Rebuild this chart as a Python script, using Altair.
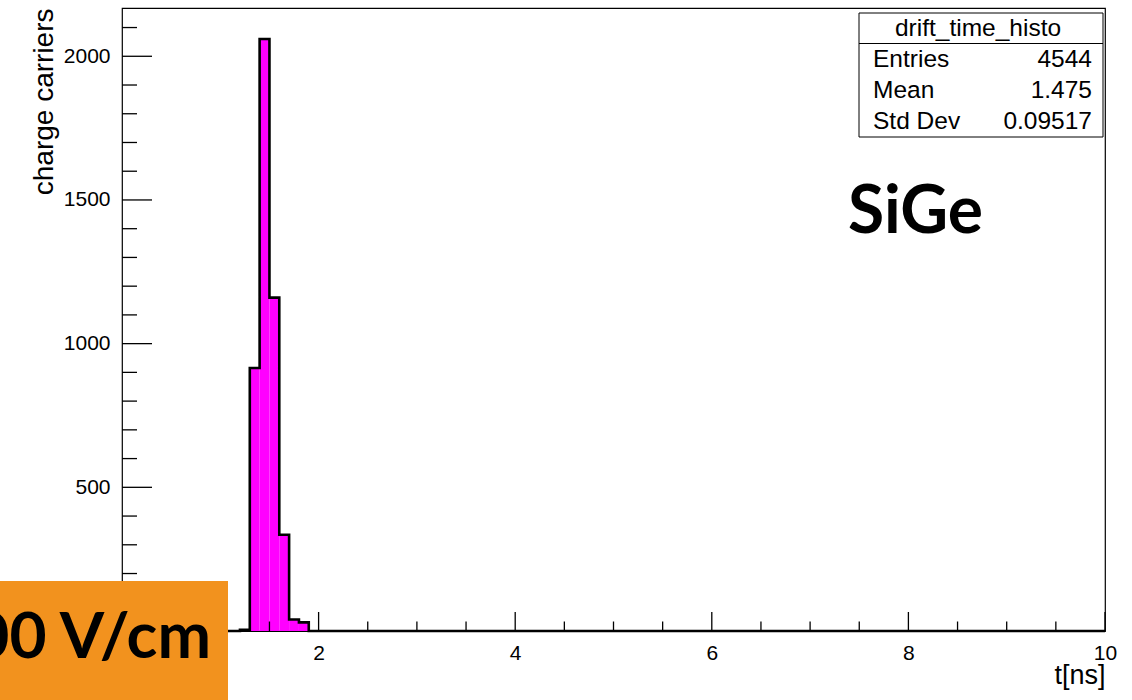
import altair as alt
import pandas as pd

# ---------------- data ----------------
bin_lo = [1.2, 1.3, 1.4, 1.5, 1.6, 1.7, 1.8]
bin_hi = [1.3, 1.4, 1.5, 1.6, 1.7, 1.8, 1.9]
counts = [4, 915, 2060, 1160, 335, 40, 30]
x_domain = [0, 10]
y_domain = [0, 2168]

x_major_ticks = [0, 2, 4, 6, 8, 10]
x_label_values = [2, 4, 6, 8, 10]          # "0" is hidden under the orange banner
x_minor_ticks = [0.5, 1, 1.5, 2.5, 3, 3.5, 4.5, 5, 5.5, 6.5, 7, 7.5, 8.5, 9, 9.5]
y_major_ticks = [0, 500, 1000, 1500, 2000]
y_label_values = [500, 1000, 1500, 2000]   # "0" is hidden under the orange banner
y_minor_ticks = [100, 200, 300, 400, 600, 700, 800, 900, 1100, 1200, 1300, 1400,
                 1600, 1700, 1800, 1900, 2100]

stats_title = "drift_time_histo"
stats_names = ["Entries", "Mean", "Std Dev"]
stats_values = ["4544", "1.475", "0.09517"]

x_title = "t[ns]"
y_title = "charge carriers"
material_text = "SiGe"
field_text = "1000 V/cm"

# ---------------- layout ----------------
W, H = 983, 623
FONT = "Liberation Sans"

bars_df = pd.DataFrame({"lo": bin_lo, "hi": bin_hi, "n": counts})
step_df = pd.DataFrame({
    "x": [x_domain[0]] + bin_lo + [bin_hi[-1], x_domain[1]],
    "y": [0] + counts + [0, 0],
})
one = pd.DataFrame({"a": [0]})

xscale = alt.Scale(domain=x_domain, nice=False, zero=False)
yscale = alt.Scale(domain=y_domain, nice=False, zero=False)

x_axis = alt.Axis(
    values=x_label_values, ticks=False, tickSize=0, domain=False, grid=False,
    labelFont=FONT, labelFontSize=21, labelColor="black", labelPadding=11,
    labelFlush=False, labelOverlap=False, format="d",
    title=x_title, titleFont=FONT, titleFontSize=27, titleFontWeight="normal",
    titleColor="black", titleAlign="right", titleAnchor="end",
    titleX=W, titleY=52, titleBaseline="alphabetic",
)
y_axis = alt.Axis(
    values=y_label_values, ticks=False, tickSize=0, domain=False, grid=False,
    labelFont=FONT, labelFontSize=21, labelColor="black", labelPadding=12,
    labelFlush=False, labelOverlap=False, format="d",
    title=y_title, titleFont=FONT, titleFontSize=28, titleFontWeight="normal",
    titleColor="black", titleAngle=270, titleAlign="right", titleAnchor="end",
    titleX=-70, titleY=0, titleBaseline="alphabetic",
)

bars = alt.Chart(bars_df).mark_rect(color="#FF00FF").encode(
    x=alt.X("lo:Q", scale=xscale, axis=x_axis),
    x2="hi:Q",
    y=alt.Y("n:Q", scale=yscale, axis=y_axis),
    y2=alt.datum(0),
)

step = alt.Chart(step_df).mark_line(
    color="black", strokeWidth=2.6, interpolate="step-after", clip=False
).encode(
    x=alt.X("x:Q", scale=xscale),
    y=alt.Y("y:Q", scale=yscale),
)

xmaj = alt.Chart(pd.DataFrame({"v": x_major_ticks})).mark_rule(
    color="black", strokeWidth=1.3).encode(
    x=alt.X("v:Q", scale=xscale), y=alt.value(H), y2=alt.value(H - 19))
xmin = alt.Chart(pd.DataFrame({"v": x_minor_ticks})).mark_rule(
    color="black", strokeWidth=1.3).encode(
    x=alt.X("v:Q", scale=xscale), y=alt.value(H), y2=alt.value(H - 9.5))
ymaj = alt.Chart(pd.DataFrame({"v": y_major_ticks})).mark_rule(
    color="black", strokeWidth=1.3).encode(
    y=alt.Y("v:Q", scale=yscale), x=alt.value(0), x2=alt.value(30))
ymin = alt.Chart(pd.DataFrame({"v": y_minor_ticks})).mark_rule(
    color="black", strokeWidth=1.3).encode(
    y=alt.Y("v:Q", scale=yscale), x=alt.value(0), x2=alt.value(15))

# stats box
bx0, bx1, by0, by1 = 737, 981, 5, 129
box = alt.Chart(one).mark_rect(fill="white", stroke="black", strokeWidth=1).encode(
    x=alt.value(bx0), x2=alt.value(bx1), y=alt.value(by0), y2=alt.value(by1))
sep = alt.Chart(one).mark_rule(color="black", strokeWidth=1).encode(
    x=alt.value(bx0), x2=alt.value(bx1), y=alt.value(35.5))
title_txt = alt.Chart(one).mark_text(
    text=stats_title, font=FONT, fontSize=24.5, color="black",
    align="center", baseline="middle").encode(
    x=alt.value((bx0 + bx1) / 2 - 3), y=alt.value(20.5))
stat_layers = []
for i, (nm, vl) in enumerate(zip(stats_names, stats_values)):
    yy = 51.5 + i * 31.3
    stat_layers.append(alt.Chart(one).mark_text(
        text=nm, font=FONT, fontSize=24.5, color="black",
        align="left", baseline="middle").encode(
        x=alt.value(751), y=alt.value(yy)))
    stat_layers.append(alt.Chart(one).mark_text(
        text=vl, font=FONT, fontSize=24.5, color="black",
        align="right", baseline="middle").encode(
        x=alt.value(970), y=alt.value(yy)))

sige = alt.Chart(one).mark_text(
    text=material_text, font="Lato", fontWeight="bold", fontSize=66,
    color="black", align="left", baseline="alphabetic").encode(
    x=alt.value(726), y=alt.value(225))

orange = alt.Chart(one).mark_rect(color="#F2921E").encode(
    x=alt.value(-130), x2=alt.value(106), y=alt.value(573), y2=alt.value(700))
field = alt.Chart(one).mark_text(
    text=field_text, font="Lato", fontWeight="bold", fontSize=64,
    color="black", align="right", baseline="alphabetic").encode(
    x=alt.value(89), y=alt.value(650))

chart = alt.layer(
    bars, step, xmaj, xmin, ymaj, ymin, box, sep, title_txt, *stat_layers,
    sige, orange, field,
).properties(
    width=W, height=H,
    autosize=alt.AutoSizeParams(type="none"),
    padding={"left": 122, "top": 8, "right": 27, "bottom": 69},
    background="white",
).configure_view(stroke="black", strokeWidth=1.2)

chart.save("out.html", embed_options={"renderer": "svg", "actions": False})
